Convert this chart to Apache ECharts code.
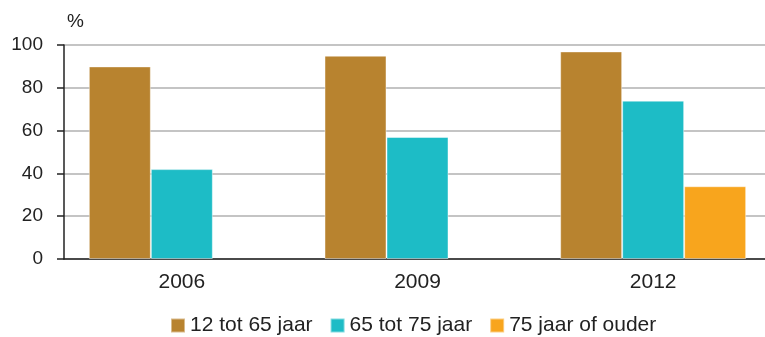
<!DOCTYPE html>
<html>
<head>
<meta charset="utf-8">
<script src="https://cdn.jsdelivr.net/npm/echarts@6/dist/echarts.min.js"></script>
<style>
  html, body { margin: 0; padding: 0; background: #fff; }
  #chart { width: 765px; height: 337px; }
</style>
</head>
<body>
<div id="chart"></div>
<script>
// Survey years and share (%) per age group
const years = ['2006', '2009', '2012'];
const age12to65 = [90, 95, 97];
const age65to75 = [42, 57, 74];
const age75plus = [null, null, 34];
const yTicks = [0, 20, 40, 60, 80, 100];

const seriesNames = ['12 tot 65 jaar', '65 tot 75 jaar', '75 jaar of ouder'];
const colors = ['#B8832F', '#1DBCC6', '#F8A51D'];
const values = [age12to65, age65to75, age75plus];

const font = '"Liberation Sans", Arial, sans-serif';

const chart = echarts.init(document.getElementById('chart'), null, { renderer: 'canvas' });

chart.setOption({
  animation: false,
  color: colors,
  // plot area runs slightly past the right edge of the canvas
  grid: { left: 64, width: 707, top: 45, height: 214, containLabel: false, outerBoundsMode: 'none' },
  legend: {
    left: 165,
    top: 310,
    itemWidth: 14,
    itemHeight: 14,
    itemGap: 17,
    icon: 'rect',
    textStyle: { fontFamily: font, fontSize: 21, color: '#222' },
    data: seriesNames
  },
  xAxis: {
    type: 'category',
    data: years,
    axisLine: { lineStyle: { color: '#222', width: 1.5 } },
    axisTick: { show: false },
    axisLabel: { fontFamily: font, fontSize: 21, color: '#222', margin: 13 },
    splitLine: { show: false }
  },
  yAxis: {
    type: 'value',
    min: yTicks[0],
    max: yTicks[yTicks.length - 1],
    interval: 20,
    name: '%',
    nameLocation: 'end',
    nameGap: 14,
    nameTextStyle: { fontFamily: font, fontSize: 19, color: '#222', align: 'left', padding: [0, 0, 0, 3] },
    axisLine: { show: true, lineStyle: { color: '#222', width: 1.5 } },
    axisTick: { show: true, length: 7, lineStyle: { color: '#222', width: 1.5 } },
    axisLabel: { fontFamily: font, fontSize: 19, color: '#222', margin: 21 },
    splitLine: { show: true, lineStyle: { color: '#c4c4c4', width: 2 } }
  },
  series: seriesNames.map((name, i) => ({
    name: name,
    type: 'bar',
    data: values[i],
    barWidth: 62,
    barGap: '0%',
    itemStyle: { color: colors[i], borderColor: 'rgba(255,255,255,0.45)', borderWidth: 1 }
  }))
});
</script>
</body>
</html>
